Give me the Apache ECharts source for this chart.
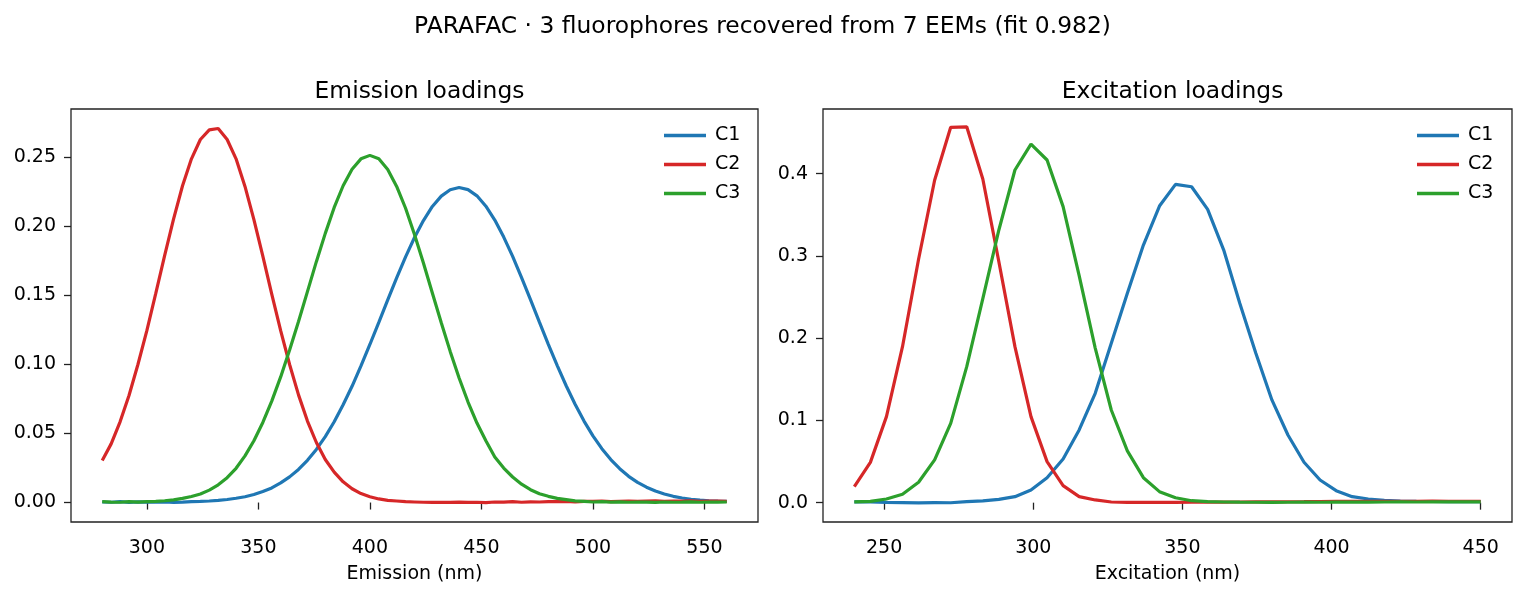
<!DOCTYPE html>
<html>
<head>
<meta charset="utf-8">
<script src="https://cdn.jsdelivr.net/npm/echarts@6/dist/echarts.min.js"></script>
<style>
html,body{margin:0;padding:0;background:#fff;}
#chart{width:1525px;height:595px;}
</style>
</head>
<body>
<div id="chart"></div>
<script>
// ---------- data ----------
const emX = [280,284,288,292,296,300,304,308,312,316,320,324,328,332,336,340,344,348,352,356,360,364,368,372,376,380,384,388,392,396,400,404,408,412,416,420,424,428,432,436,440,444,448,452,456,460,464,468,472,476,480,484,488,492,496,500,504,508,512,516,520,524,528,532,536,540,544,548,552,556,560];
const emC1 = [0.0004,0.0002,0.0006,0.0001,0.0005,0.0003,0.0002,0.0004,0.0001,0.0003,0.0006,0.0008,0.0011,0.0016,0.0022,0.0031,0.0042,0.0058,0.0080,0.0106,0.0142,0.0186,0.0240,0.0306,0.0385,0.0478,0.0585,0.0708,0.0842,0.0990,0.1145,0.1305,0.1468,0.1628,0.1780,0.1920,0.2043,0.2145,0.2220,0.2266,0.2282,0.2267,0.2222,0.2147,0.2046,0.1923,0.1783,0.1630,0.1470,0.1307,0.1146,0.0992,0.0846,0.0712,0.0590,0.0483,0.0390,0.0311,0.0245,0.0190,0.0146,0.0111,0.0083,0.0062,0.0045,0.0033,0.0024,0.0018,0.0013,0.0010,0.0008];
const emC2 = [0.0305,0.0425,0.0585,0.0775,0.1000,0.1245,0.1515,0.1790,0.2055,0.2295,0.2490,0.2630,0.2700,0.2710,0.2630,0.2490,0.2290,0.2050,0.1785,0.1510,0.1245,0.1000,0.0780,0.0590,0.0435,0.0312,0.0220,0.0150,0.0100,0.0065,0.0042,0.0026,0.0016,0.0011,0.0006,0.0004,0.0002,0.0001,0.0002,0.0001,0.0003,0.0001,0.0002,0.0000,0.0004,0.0003,0.0006,0.0002,0.0005,0.0004,0.0007,0.0006,0.0008,0.0005,0.0009,0.0008,0.0010,0.0007,0.0009,0.0011,0.0008,0.0010,0.0012,0.0009,0.0011,0.0010,0.0012,0.0009,0.0011,0.0010,0.0009];
const emC3 = [0.0006,0.0003,0.0002,0.0007,0.0003,0.0006,0.0009,0.0013,0.0019,0.0030,0.0044,0.0062,0.0090,0.0128,0.0180,0.0248,0.0338,0.0448,0.0580,0.0735,0.0910,0.1105,0.1312,0.1528,0.1745,0.1950,0.2138,0.2295,0.2415,0.2490,0.2515,0.2490,0.2412,0.2290,0.2132,0.1942,0.1735,0.1518,0.1302,0.1095,0.0902,0.0728,0.0576,0.0447,0.0330,0.0250,0.0185,0.0133,0.0093,0.0064,0.0045,0.0030,0.0021,0.0012,0.0008,0.0004,0.0006,0.0003,0.0005,0.0002,0.0004,0.0003,0.0001,0.0004,0.0002,0.0003,0.0005,0.0002,0.0004,0.0003,0.0004];

const exX = [240,245.38,250.77,256.15,261.54,266.92,272.31,277.69,283.08,288.46,293.85,299.23,304.62,310,315.38,320.77,326.15,331.54,336.92,342.31,347.69,353.08,358.46,363.85,369.23,374.62,380,385.38,390.77,396.15,401.54,406.92,412.31,417.69,423.08,428.46,433.85,439.23,444.62,450];
const exC1 = [0.0010,0.0009,0.0003,0.0001,-0.0002,0.0000,-0.0001,0.0012,0.0022,0.0041,0.0073,0.0154,0.0304,0.0531,0.0884,0.1330,0.1938,0.2546,0.3133,0.3607,0.3871,0.3842,0.3567,0.3072,0.2424,0.1816,0.1249,0.0823,0.0491,0.0276,0.0146,0.0073,0.0045,0.0028,0.0020,0.0016,0.0014,0.0013,0.0012,0.0012];
const exC2 = [0.0195,0.0490,0.1046,0.1897,0.2960,0.3920,0.4564,0.4570,0.3935,0.2930,0.1897,0.1046,0.0499,0.0207,0.0073,0.0033,0.0008,0.0004,0.0003,0.0003,0.0004,0.0005,0.0006,0.0007,0.0008,0.0009,0.0010,0.0011,0.0012,0.0014,0.0016,0.0015,0.0016,0.0017,0.0016,0.0017,0.0018,0.0017,0.0016,0.0017];
const exC3 = [0.0010,0.0016,0.0045,0.0102,0.0248,0.0520,0.0965,0.1654,0.2480,0.3316,0.4045,0.4360,0.4167,0.3600,0.2760,0.1880,0.1127,0.0629,0.0304,0.0134,0.0060,0.0024,0.0012,0.0008,0.0006,0.0005,0.0004,0.0005,0.0006,0.0005,0.0006,0.0007,0.0006,0.0008,0.0009,0.0008,0.0009,0.0010,0.0009,0.0010];

const seriesNames = ['C1','C2','C3'];
const seriesColors = ['#1f77b4','#d62728','#2ca02c'];
const emTicks = [300,350,400,450,500,550];
const exTicks = [250,300,350,400,450];
const emYTicks = [0,0.05,0.10,0.15,0.20,0.25];
const exYTicks = [0,0.1,0.2,0.3,0.4];

const suptitle = 'PARAFAC · 3 fluorophores recovered from 7 EEMs (fit 0.982)';
const leftTitle = 'Emission loadings';
const rightTitle = 'Excitation loadings';
const leftXName = 'Emission (nm)';
const rightXName = 'Excitation (nm)';

// ---------- chart ----------
const FONT = 'DejaVu Sans';
const TICK_FS = 19;
const zip = (xs, ys) => xs.map((x, i) => [x, ys[i]]);

function xAxis(gi, min, max, ticks, name) {
  return {
    type: 'value', gridIndex: gi, min: min, max: max,
    name: name, nameLocation: 'middle', nameGap: 43,
    nameTextStyle: {fontFamily: FONT, fontSize: TICK_FS, color: '#000'},
    axisLine: {show: false},
    axisTick: {show: true, inside: false, length: 7, customValues: ticks, lineStyle: {color: '#222', width: 1.3}},
    axisLabel: {show: true, margin: 17, customValues: ticks, fontFamily: FONT, fontSize: TICK_FS, color: '#000',
      formatter: v => String(Math.round(v))},
    splitLine: {show: false}
  };
}
function yAxis(gi, min, max, ticks, dec) {
  return {
    type: 'value', gridIndex: gi, min: min, max: max,
    axisLine: {show: false},
    axisTick: {show: true, inside: false, length: 7, customValues: ticks, lineStyle: {color: '#222', width: 1.3}},
    axisLabel: {show: true, margin: 15, customValues: ticks, fontFamily: FONT, fontSize: TICK_FS, color: '#000',
      formatter: v => v.toFixed(dec)},
    splitLine: {show: false}
  };
}

const series = [];
const emYs = [emC1, emC2, emC3];
const exYs = [exC1, exC2, exC3];
for (let k = 0; k < 3; k++) {
  series.push({name: seriesNames[k], type: 'line', xAxisIndex: 0, yAxisIndex: 0,
    data: zip(emX, emYs[k]), symbol: 'none', showSymbol: false,
    lineStyle: {width: 3.2, color: seriesColors[k]}, itemStyle: {color: seriesColors[k]}, z: 2 + k});
}
for (let k = 0; k < 3; k++) {
  series.push({name: seriesNames[k], type: 'line', xAxisIndex: 1, yAxisIndex: 1,
    data: zip(exX, exYs[k]), symbol: 'none', showSymbol: false,
    lineStyle: {width: 3.2, color: seriesColors[k]}, itemStyle: {color: seriesColors[k]}, z: 2 + k});
}

function legend(left) {
  return {
    data: seriesNames, orient: 'vertical', left: left, top: 121,
    icon: 'rect', itemWidth: 42, itemHeight: 3.4, itemGap: 10,
    textStyle: {fontFamily: FONT, fontSize: TICK_FS, color: '#000', padding: [0, 0, 0, 4]},
    selectedMode: false
  };
}

const chart = echarts.init(document.getElementById('chart'), null, {renderer: 'canvas'});
chart.setOption({
  animation: false,
  backgroundColor: '#fff',
  color: seriesColors,
  title: [
    {text: suptitle, left: 'center', top: 10, textStyle: {fontFamily: FONT, fontSize: 23.4, fontWeight: 'normal', color: '#000'}},
    {text: leftTitle, left: 414.5, textAlign: 'center', top: 75, textStyle: {fontFamily: FONT, fontSize: 23.4, fontWeight: 'normal', color: '#000'}},
    {text: rightTitle, left: 1167.5, textAlign: 'center', top: 75, textStyle: {fontFamily: FONT, fontSize: 23.4, fontWeight: 'normal', color: '#000'}}
  ],
  legend: [legend(659), legend(1412)],
  grid: [
    {left: 71, top: 109, width: 687, height: 413, show: true, borderColor: '#222', borderWidth: 1.3, backgroundColor: 'transparent'},
    {left: 823, top: 109, width: 689, height: 413, show: true, borderColor: '#222', borderWidth: 1.3, backgroundColor: 'transparent'}
  ],
  xAxis: [xAxis(0, 266, 574, emTicks, leftXName), xAxis(1, 229.5, 460.5, exTicks, rightXName)],
  yAxis: [yAxis(0, -0.0141, 0.2851, emYTicks, 2), yAxis(1, -0.0235, 0.4787, exYTicks, 1)],
  series: series
});
</script>
</body>
</html>
